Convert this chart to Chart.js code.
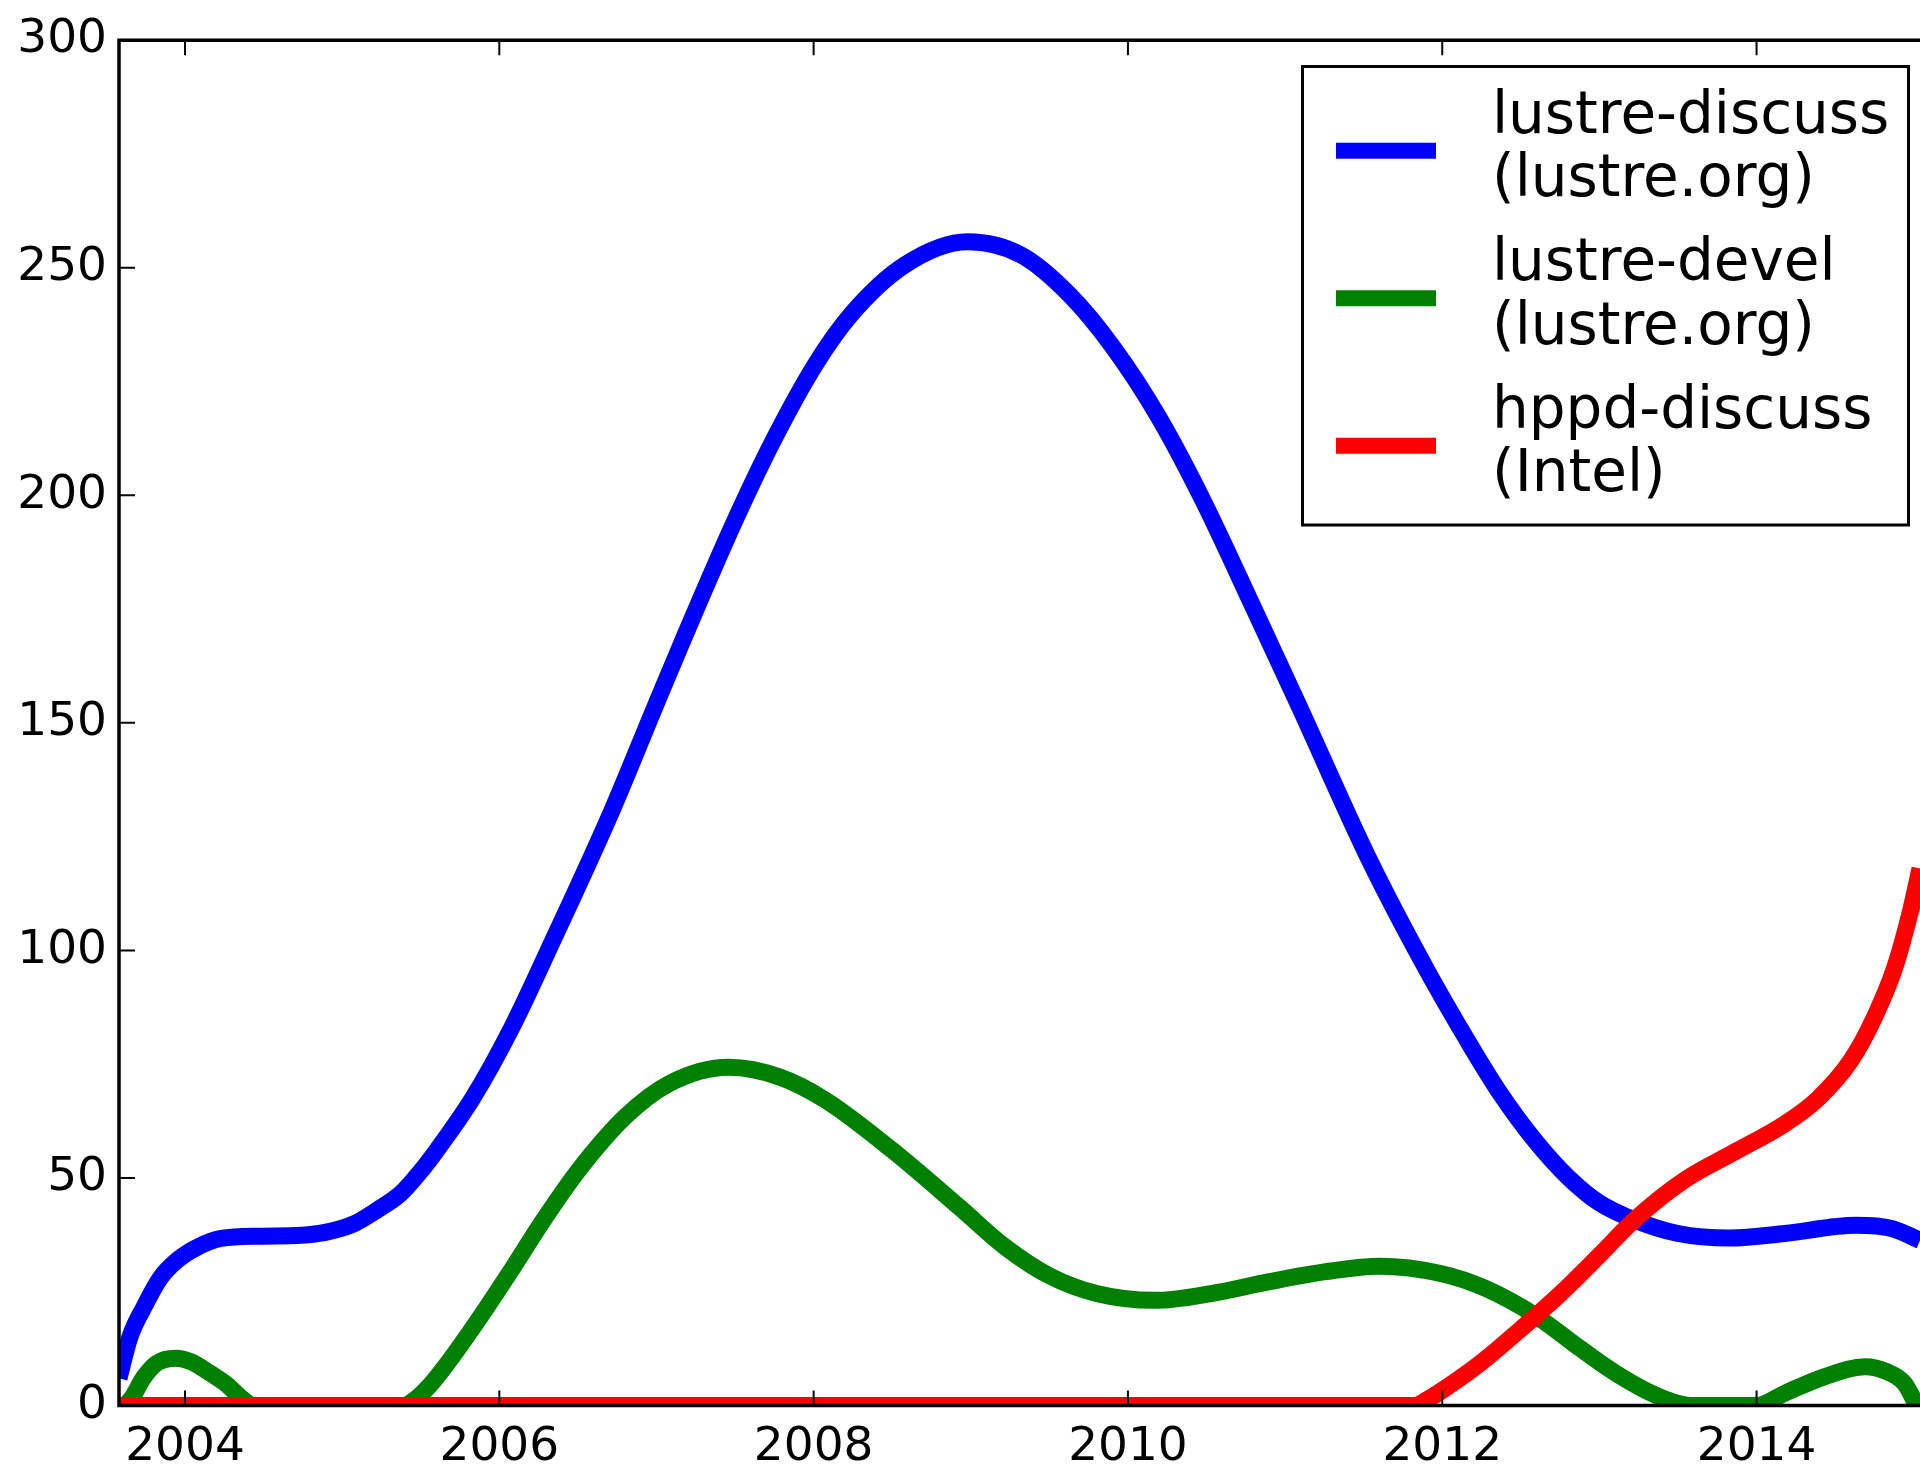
<!DOCTYPE html>
<html>
<head>
<meta charset="utf-8">
<script src="https://cdn.jsdelivr.net/npm/chart.js@4.4.1/dist/chart.umd.min.js"></script>
<style>
  html, body { margin: 0; padding: 0; background: #fff; }
  canvas { display: block; }
</style>
</head>
<body>
<canvas id="chart" width="1920" height="1464"></canvas>
<script>
const seriesLabels = ["lustre-discuss\n(lustre.org)", "lustre-devel\n(lustre.org)", "hppd-discuss\n(Intel)"];
const seriesColors = ["#0000ff", "#008000", "#ff0000"];

const xTickValues = [2004, 2006, 2008, 2010, 2012, 2014];
const yTickValues = [0, 50, 100, 150, 200, 250, 300];

// lustre-discuss
const blueX = [2003.58, 2003.65, 2003.74, 2003.84, 2003.95, 2004.08, 2004.23, 2004.48, 2004.74, 2004.9,
  2005.08, 2005.22, 2005.37, 2005.5, 2005.6, 2005.83, 2006.08, 2006.31, 2006.72, 2006.99,
  2007.16, 2007.5, 2007.75, 2008.01, 2008.24, 2008.58, 2008.98, 2009.32, 2009.63, 2009.91,
  2010.2, 2010.48, 2010.8, 2011.09, 2011.53, 2011.9, 2012.16, 2012.37, 2012.59, 2012.8,
  2013.0, 2013.22, 2013.5, 2013.83, 2014.18, 2014.63, 2014.86, 2015.04];
const blueY = [6, 15.1, 21.7, 27.9, 31.9, 34.8, 36.7, 37.2, 37.4, 38.1,
  40.0, 42.9, 46.5, 51.5, 56, 67.5, 83.1, 99.9, 131, 153.5,
  167.5, 194.5, 212.5, 228.7, 239.8, 250.6, 255.7, 252.8, 244, 232.3,
  216.9, 198.7, 175.2, 153.6, 120.3, 95.8, 80.2, 68.5, 58.2, 50.2,
  44.5, 40.8, 37.8, 36.8, 37.8, 39.6, 38.9, 36.3];

// lustre-devel
const greenX = [2003.62, 2003.66, 2003.74, 2003.82, 2003.94, 2004.04, 2004.16, 2004.27, 2004.36, 2004.44,
  2005.39, 2005.47, 2005.56, 2005.66, 2005.86, 2006.07, 2006.28, 2006.5, 2006.8, 2007.08,
  2007.46, 2007.79, 2008.08, 2008.5, 2008.93, 2009.22, 2009.5, 2009.8, 2010.17, 2010.53,
  2010.9, 2011.26, 2011.6, 2011.99, 2012.27, 2012.6, 2012.84, 2013.0, 2013.14, 2013.3,
  2013.45, 2013.58, 2014.0, 2014.18, 2014.43, 2014.69, 2014.83, 2014.94, 2015.02];
const greenY = [0, 1.6, 6.3, 9.3, 10.4, 9.6, 7.1, 4.5, 1.6, 0,
  0, 1.5, 4.5, 8.8, 18.5, 29.4, 40.7, 51.5, 63.4, 70.7,
  74.3, 72.1, 67.0, 56.1, 43.5, 34.8, 28.5, 24.6, 23.1, 24.6,
  27.2, 29.4, 30.6, 29.0, 25.8, 19.6, 13.5, 9.5, 6.3, 3.2,
  1.0, 0, 0, 2.7, 6.3, 8.5, 7.4, 4.9, 0];

// hppd-discuss
const redX = [2003.58, 2011.82, 2011.9, 2012.05, 2012.25, 2012.5, 2012.75, 2013.0, 2013.22, 2013.54,
  2013.86, 2014.18, 2014.39, 2014.6, 2014.75, 2014.88, 2014.98, 2015.04];
const redY = [0, 0, 1.2, 4.5, 9.5, 16.8, 24.5, 33, 40.7, 49.5,
  55.7, 61.9, 67.4, 75.8, 85.3, 96.3, 108.7, 118];

const FONT = "DejaVu Sans";

function toPoints(xs, ys) {
  return xs.map((x, i) => ({ x: x, y: ys[i] }));
}

// spines and inward ticks, drawn over the lines
const framePlugin = {
  id: "frame",
  afterDatasetsDraw(chart) {
    const ctx = chart.ctx;
    const a = chart.chartArea;
    const xs = chart.scales.x;
    const ys = chart.scales.y;
    ctx.save();
    ctx.strokeStyle = "#000";
    ctx.lineWidth = 2;
    ctx.beginPath();
    xTickValues.forEach(v => {
      const px = xs.getPixelForValue(v);
      ctx.moveTo(px, a.bottom);
      ctx.lineTo(px, a.bottom - 15);
      ctx.moveTo(px, a.top);
      ctx.lineTo(px, a.top + 15);
    });
    yTickValues.forEach(v => {
      const py = ys.getPixelForValue(v);
      ctx.moveTo(a.left, py);
      ctx.lineTo(a.left + 16, py);
    });
    ctx.stroke();

    ctx.lineWidth = 3.5;
    ctx.beginPath();
    ctx.moveTo(a.right + 5, a.top);
    ctx.lineTo(a.left, a.top);
    ctx.lineTo(a.left, a.bottom);
    ctx.lineTo(a.right + 5, a.bottom);
    ctx.stroke();
    ctx.restore();
  }
};

const legendPlugin = {
  id: "boxLegend",
  afterDraw(chart) {
    const ctx = chart.ctx;
    ctx.save();
    ctx.fillStyle = "#fff";
    ctx.fillRect(1302.5, 66.5, 606, 458.5);
    ctx.strokeStyle = "#000";
    ctx.lineWidth = 3;
    ctx.strokeRect(1302.5, 66.5, 606, 458.5);
    ctx.font = "58px '" + FONT + "'";
    ctx.textBaseline = "alphabetic";
    ctx.textAlign = "left";
    chart.data.datasets.forEach((ds, i) => {
      const cy = 150.7 + i * 147.5;
      ctx.strokeStyle = ds.borderColor;
      ctx.lineWidth = 16;
      ctx.lineCap = "butt";
      ctx.beginPath();
      ctx.moveTo(1336, cy);
      ctx.lineTo(1436, cy);
      ctx.stroke();
      const lines = ds.label.split("\n");
      ctx.fillStyle = "#000";
      ctx.fillText(lines[0], 1492, cy - 18);
      ctx.fillText(lines[1], 1492, cy + 45.5);
    });
    ctx.restore();
  }
};

const allX = [blueX, greenX, redX];
const allY = [blueY, greenY, redY];

new Chart(document.getElementById("chart"), {
  type: "line",
  data: {
    datasets: seriesLabels.map((label, i) => ({
      label: label,
      data: toPoints(allX[i], allY[i]),
      borderColor: seriesColors[i],
      backgroundColor: seriesColors[i],
      borderWidth: 17,
      pointRadius: 0,
      fill: false,
      cubicInterpolationMode: "monotone",
      borderJoinStyle: "round",
      clip: 0,
      order: 3 - i
    }))
  },
  options: {
    responsive: false,
    animation: false,
    devicePixelRatio: 1,
    layout: { padding: { top: 38, left: 0, right: 0, bottom: 0 } },
    plugins: {
      legend: { display: false },
      tooltip: { enabled: false }
    },
    scales: {
      x: {
        type: "linear",
        min: 2003.58,
        max: 2015.04,
        grid: { display: false, drawTicks: false },
        border: { display: false },
        afterBuildTicks: s => { s.ticks = xTickValues.map(v => ({ value: v })); },
        afterFit: s => { s.height = 58.5; },
        ticks: {
          color: "#000",
          font: { family: FONT, size: 47 },
          padding: 14,
          maxRotation: 0,
          autoSkip: false,
          callback: v => String(v)
        }
      },
      y: {
        type: "linear",
        min: 0,
        max: 300,
        grid: { display: false, drawTicks: false },
        border: { display: false },
        afterBuildTicks: s => { s.ticks = yTickValues.map(v => ({ value: v })); },
        afterFit: s => { s.width = 119; },
        ticks: {
          color: "#000",
          font: { family: FONT, size: 47 },
          padding: 12,
          callback: v => String(v)
        }
      }
    }
  },
  plugins: [framePlugin, legendPlugin]
});
</script>
</body>
</html>
